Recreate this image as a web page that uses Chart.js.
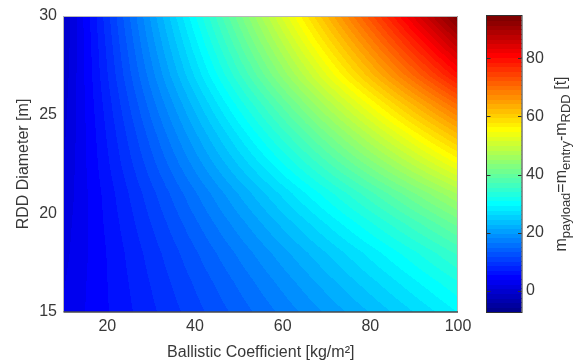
<!DOCTYPE html>
<html><head><meta charset="utf-8">
<script src="https://cdn.jsdelivr.net/npm/chart.js@4.4.1/dist/chart.umd.min.js"></script>
<style>html,body{margin:0;padding:0;background:#fff}canvas{display:block}</style>
</head><body>
<canvas id="c" width="580" height="363"></canvas>
<script>
// ---- data ----
const bcValues = [10, 20, 30, 40, 50, 60, 70, 80, 90, 100];          // Ballistic coefficient [kg/m2]
const diameters = [15, 16.5, 18, 19.5, 21, 22.5, 24, 25.5, 27, 28.5, 30]; // RDD diameter [m]
// payload mass [t] per diameter row, along bcValues
const payloadD15   = [2.5, 5.4, 8.3, 11.2, 14.1, 17.1, 20.1, 23.1, 26.2, 29.4];
const payloadD16_5 = [2.2, 5.5, 8.8, 12.1, 15.4, 18.8, 22.2, 25.6, 29.0, 32.4];
const payloadD18   = [1.8, 5.6, 9.4, 13.2, 17.0, 20.8, 24.6, 28.4, 32.2, 36.1];
const payloadD19_5 = [1.5, 5.9, 10.3, 14.7, 19.1, 23.5, 27.9, 32.3, 36.7, 41.1];
const payloadD21   = [1.1, 6.2, 11.3, 16.4, 21.5, 26.6, 31.7, 36.8, 41.9, 47.0];
const payloadD22_5 = [0.8, 6.8, 12.8, 18.8, 24.8, 30.8, 36.8, 42.8, 48.8, 54.8];
const payloadD24   = [0.4, 7.3, 14.2, 21.1, 28.0, 34.9, 41.8, 48.7, 55.6, 62.5];
const payloadD25_5 = [0.1, 7.9, 15.8, 23.6, 31.5, 39.3, 47.2, 55.0, 62.9, 70.7];
const payloadD27   = [-0.3, 8.6, 17.5, 26.4, 35.3, 44.2, 53.1, 62.0, 70.9, 79.8];
const payloadD28_5 = [-0.6, 9.1, 18.9, 28.6, 38.4, 48.1, 57.9, 67.6, 77.4, 87.1];
const payloadD30   = [-0.8, 9.7, 20.2, 30.8, 41.4, 52.0, 62.6, 73.2, 83.8, 94.4];
const payloadRows = [payloadD15, payloadD16_5, payloadD18, payloadD19_5, payloadD21, payloadD22_5,
                     payloadD24, payloadD25_5, payloadD27, payloadD28_5, payloadD30];

const xTicks = [20, 40, 60, 80, 100];
const yTicks = [15, 20, 25, 30];
const cTicks = [0, 20, 40, 60, 80];
const xRange = [10, 100];
const yRange = [15, 30];
const colorRange = [-7.2, 94.5];
const xTitle = 'Ballistic Coefficient [kg/m\u00B2]';
const yTitle = 'RDD Diameter [m]';
// colour bar label: [text, isSubscript]
const cTitleParts = [['m', false], ['payload', true], ['=m', false], ['entry', true], ['-m', false], ['RDD', true], [' [t]', false]];

// ---- MATLAB jet(64) ----
function matlabJet(m) {
  const n = Math.ceil(m / 4);
  const u = [];
  for (let i = 1; i <= n; i++) u.push(i / n);
  for (let i = 0; i < n - 1; i++) u.push(1);
  for (let i = n; i >= 1; i--) u.push(i / n);
  const off = Math.ceil(n / 2) - (m % 4 === 1 ? 1 : 0);
  const J = Array.from({length: m}, () => [0, 0, 0]);
  for (let j = 1; j <= u.length; j++) {
    const g = off + j, r = g + n, b = g - n;
    if (g <= m) J[g - 1][1] = u[j - 1];
    if (r <= m) J[r - 1][0] = u[j - 1];
    if (b >= 1) J[b - 1][2] = u[j - 1];
  }
  return J.map(c => c.map(v => Math.round(v * 255)));
}
const JET = matlabJet(64);
function colorIndex(v) {
  let k = Math.floor((v - colorRange[0]) / (colorRange[1] - colorRange[0]) * JET.length);
  return Math.max(0, Math.min(JET.length - 1, k));
}

function findCell(arr, v) {
  if (v <= arr[0]) return [0, 0];
  if (v >= arr[arr.length - 1]) return [arr.length - 2, 1];
  for (let i = 0; i < arr.length - 1; i++) {
    if (v <= arr[i + 1]) return [i, (v - arr[i]) / (arr[i + 1] - arr[i])];
  }
  return [arr.length - 2, 1];
}
function sample(bc, d) {
  const [i, fx] = findCell(bcValues, bc);
  const [j, fy] = findCell(diameters, d);
  const a = payloadRows[j][i], b = payloadRows[j][i + 1];
  const c = payloadRows[j + 1][i], e = payloadRows[j + 1][i + 1];
  return (a * (1 - fx) + b * fx) * (1 - fy) + (c * (1 - fx) + e * fx) * fy;
}

const points = [];
diameters.forEach((d, j) => bcValues.forEach((bc, i) => points.push({x: bc, y: d, v: payloadRows[j][i]})));

const FONT = 'Liberation Sans, Arial, Helvetica, sans-serif';
const TXT = '#383838';

const heatmapPlugin = {
  id: 'heatmap',
  beforeDatasetsDraw(chart) {
    const {ctx, chartArea: ca, scales: {x, y}} = chart;
    const L = Math.floor(ca.left), T = Math.floor(ca.top), R = Math.ceil(ca.right), B = Math.ceil(ca.bottom);
    const w = R - L, h = B - T;
    const off = document.createElement('canvas');
    off.width = w; off.height = h;
    const octx = off.getContext('2d');
    const img = octx.createImageData(w, h);
    for (let py = 0; py < h; py++) {
      const d = y.getValueForPixel(T + py + 0.5);
      for (let px = 0; px < w; px++) {
        const bc = x.getValueForPixel(L + px + 0.5);
        const col = JET[colorIndex(sample(bc, d))];
        const o = (py * w + px) * 4;
        img.data[o] = col[0]; img.data[o + 1] = col[1]; img.data[o + 2] = col[2]; img.data[o + 3] = 255;
      }
    }
    octx.putImageData(img, 0, 0);
    ctx.save();
    ctx.beginPath();
    ctx.rect(ca.left, ca.top, ca.right - ca.left, ca.bottom - ca.top);
    ctx.clip();
    ctx.drawImage(off, L, T);
    ctx.restore();
  },
  afterDraw(chart) {
    const {ctx, chartArea: ca, scales: {c}} = chart;
    ctx.save();
    // plot frame
    ctx.strokeStyle = '#b8b8b8'; ctx.lineWidth = 1;
    ctx.beginPath();
    ctx.moveTo(ca.left, ca.bottom); ctx.lineTo(ca.left, ca.top + 0.5);
    ctx.lineTo(ca.right - 0.5, ca.top + 0.5); ctx.lineTo(ca.right - 0.5, ca.bottom);
    ctx.stroke();
    ctx.strokeStyle = '#4a4a4a'; ctx.lineWidth = 1.5;
    ctx.beginPath(); ctx.moveTo(ca.left, ca.bottom); ctx.lineTo(ca.right, ca.bottom); ctx.stroke();

    // colour bar
    const x0 = ca.right + 29, x1 = ca.right + 63.5;
    const span = colorRange[1] - colorRange[0];
    for (let k = 0; k < JET.length; k++) {
      const v0 = colorRange[0] + k * span / JET.length, v1 = v0 + span / JET.length;
      const yb = c.getPixelForValue(v0), yt = c.getPixelForValue(v1);
      const col = JET[k];
      ctx.fillStyle = `rgb(${col[0]},${col[1]},${col[2]})`;
      ctx.fillRect(x0, Math.floor(yt), x1 - x0, Math.ceil(yb) - Math.floor(yt));
    }
    const yTop = c.getPixelForValue(colorRange[1]), yBot = c.getPixelForValue(colorRange[0]);
    ctx.strokeStyle = '#303030'; ctx.lineWidth = 1;
    ctx.strokeRect(x0 - 0.5, yTop - 0.5, x1 - x0 + 1, yBot - yTop + 1);
    ctx.beginPath();
    cTicks.forEach(t => {
      const yy = Math.round(c.getPixelForValue(t)) + 0.5;
      ctx.moveTo(x0, yy); ctx.lineTo(x0 + 3.5, yy);
      ctx.moveTo(x1 - 3.5, yy); ctx.lineTo(x1, yy);
    });
    ctx.stroke();

    // colour bar title with subscripts
    const mainSize = 16, subSize = 13;
    let total = 0;
    cTitleParts.forEach(([t, sub]) => { ctx.font = `${sub ? subSize : mainSize}px ${FONT}`; total += ctx.measureText(t).width; });
    ctx.translate(ca.right + 107.5, (yTop + yBot) / 2);
    ctx.rotate(-Math.PI / 2);
    ctx.fillStyle = TXT; ctx.textBaseline = 'alphabetic'; ctx.textAlign = 'left';
    let pos = -total / 2;
    cTitleParts.forEach(([t, sub]) => {
      ctx.font = `${sub ? subSize : mainSize}px ${FONT}`;
      ctx.fillText(t, pos, sub ? 4.5 : 0);
      pos += ctx.measureText(t).width;
    });
    ctx.restore();
  }
};

const tickFont = {family: FONT, size: 16};
new Chart(document.getElementById('c').getContext('2d'), {
  type: 'scatter',
  data: {datasets: [{data: points, pointRadius: 0, pointHoverRadius: 0, showLine: false}]},
  options: {
    responsive: false, animation: false, events: [],
    plugins: {legend: {display: false}, tooltip: {enabled: false}},
    layout: {padding: {top: 16, left: 0, right: 0, bottom: 0}},
    scales: {
      x: {
        type: 'linear', position: 'bottom', min: xRange[0], max: xRange[1],
        grid: {display: false, drawTicks: false}, border: {display: false},
        ticks: {font: tickFont, color: TXT, padding: 5, maxRotation: 0, autoSkip: false},
        afterBuildTicks: s => { s.ticks = xTicks.map(v => ({value: v})); },
        afterFit: s => { s.height = 51; s.paddingLeft = 0; s.paddingRight = 0; },
        title: {display: true, text: xTitle, font: tickFont, color: TXT, padding: {top: 0, bottom: 0.5}}
      },
      y: {
        type: 'linear', position: 'left', min: yRange[0], max: yRange[1],
        grid: {display: false, drawTicks: false}, border: {display: false},
        ticks: {font: tickFont, color: TXT, padding: 6.5, autoSkip: false},
        afterBuildTicks: s => { s.ticks = yTicks.map(v => ({value: v})); },
        afterFit: s => { s.width = 63.5; s.paddingTop = 0; s.paddingBottom = 0; },
        title: {display: true, text: yTitle, font: tickFont, color: TXT, padding: {top: 13.8, bottom: 0}}
      },
      c: {
        type: 'linear', position: 'right', min: colorRange[0], max: colorRange[1],
        grid: {display: false, drawTicks: false}, border: {display: false},
        ticks: {font: tickFont, color: TXT, padding: 68, autoSkip: false},
        afterBuildTicks: s => { s.ticks = cTicks.map(v => ({value: v})); },
        afterFit: s => { s.width = 122; s.paddingTop = 0; s.paddingBottom = 0; }
      }
    }
  },
  plugins: [heatmapPlugin]
});
</script>
</body></html>
